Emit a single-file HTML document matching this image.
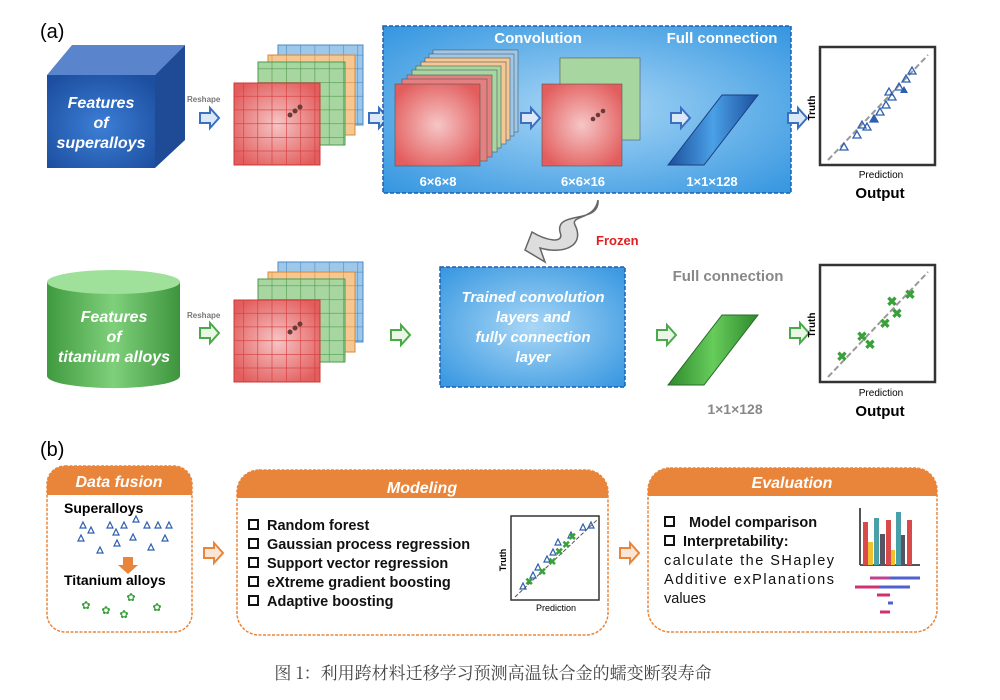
<!DOCTYPE html>
<html><head><meta charset="utf-8"><style>
body{margin:0;background:#fff;width:1000px;height:695px;overflow:hidden}
svg text{font-family:"Liberation Sans",Arial,sans-serif}
</style></head><body>
<svg width="1000" height="695" viewBox="0 0 1000 695" xmlns="http://www.w3.org/2000/svg">
<defs>
<radialGradient id="red" cx="50%" cy="50%" r="60%"><stop offset="0" stop-color="#f6c6c6"/><stop offset="1" stop-color="#e35d5d"/></radialGradient>
<radialGradient id="panel" cx="50%" cy="50%" r="70%"><stop offset="0" stop-color="#a9d7f6"/><stop offset="1" stop-color="#3596e0"/></radialGradient>
<radialGradient id="cube" cx="50%" cy="55%" r="65%"><stop offset="0" stop-color="#3c7fd6"/><stop offset="1" stop-color="#1d4fa0"/></radialGradient>
<linearGradient id="cyl" x1="0" x2="1"><stop offset="0" stop-color="#3f9a3f"/><stop offset=".5" stop-color="#7fd07a"/><stop offset="1" stop-color="#3e943e"/></linearGradient>
<linearGradient id="para" x1="0" x2="1"><stop offset="0" stop-color="#1b4f9c"/><stop offset=".5" stop-color="#4aa0e6"/><stop offset="1" stop-color="#1b4f9c"/></linearGradient>
<linearGradient id="parag" x1="0" x2="1"><stop offset="0" stop-color="#2e8a2e"/><stop offset=".5" stop-color="#66cc5a"/><stop offset="1" stop-color="#2e8a2e"/></linearGradient>
<pattern id="gr" width="14.3" height="13.7" patternUnits="userSpaceOnUse"><path d="M0 0H14.3M0 0V13.7" stroke="#d43a3a" stroke-width="1.2" fill="none"/></pattern>
<pattern id="gg" width="14.3" height="13.7" patternUnits="userSpaceOnUse"><path d="M0 0H14.3M0 0V13.7" stroke="#4e9a4e" stroke-width="1.2" fill="none"/></pattern>
<pattern id="go" width="14.3" height="13.7" patternUnits="userSpaceOnUse"><path d="M0 0H14.3M0 0V13.7" stroke="#d98a3a" stroke-width="1.2" fill="none"/></pattern>
<pattern id="gb" width="14.3" height="13.7" patternUnits="userSpaceOnUse"><path d="M0 0H14.3M0 0V13.7" stroke="#4a8ac4" stroke-width="1.2" fill="none"/></pattern>
<g id="grid">
<rect x="278" y="45" width="85" height="80" fill="#9ec8ea" stroke="#4a8ac4"/><rect x="278" y="45" width="85" height="80" fill="url(#gb)"/>
<rect x="268" y="55" width="87" height="80" fill="#f5c893" stroke="#d98a3a"/><rect x="268" y="55" width="87" height="80" fill="url(#go)"/>
<rect x="258" y="62" width="87" height="83" fill="#a8d6a0" stroke="#4e9a4e"/><rect x="258" y="62" width="87" height="83" fill="url(#gg)"/>
<rect x="234" y="83" width="86" height="82" fill="url(#red)" stroke="#c83a3a"/><rect x="234" y="83" width="86" height="82" fill="url(#gr)"/>
<circle cx="290" cy="115" r="2.5" fill="#6b3a3a"/><circle cx="295" cy="111" r="2.5" fill="#6b3a3a"/><circle cx="300" cy="107" r="2.5" fill="#6b3a3a"/>
</g>
<g id="arrB"><path d="M0 -5H10V-10L19 0L10 10V5H0Z" fill="#dbe8f7" stroke="#3b6fc0" stroke-width="2"/></g>
<g id="arrG"><path d="M0 -5H10V-10L19 0L10 10V5H0Z" fill="#eaf7e6" stroke="#4aaa4a" stroke-width="2"/></g>
<g id="arrO"><path d="M0 -5H10V-10L19 0L10 10V5H0Z" fill="#fbe6d6" stroke="#e8853a" stroke-width="2"/></g>
<g id="box"><rect x="0" y="-10" width="9" height="9" fill="none" stroke="#111" stroke-width="2"/></g>
</defs>

<text x="40" y="38" font-size="20">(a)</text>
<polygon points="47,75 72,45 185,45 155,75" fill="#5a84cc"/>
<polygon points="155,75 185,45 185,140 155,168" fill="#1e4a96"/>
<rect x="47" y="75" width="108" height="93" fill="url(#cube)"/>
<g font-size="16" font-weight="bold" font-style="italic" fill="#fff" text-anchor="middle">
<text x="101" y="108">Features</text><text x="101" y="128">of</text><text x="101" y="148">superalloys</text></g>
<text x="187" y="102" font-size="8" font-weight="bold" fill="#777">Reshape</text>
<use href="#arrB" x="200" y="118"/>
<use href="#grid"/>
<use href="#arrB" x="369" y="118"/>
<rect x="383" y="26" width="408" height="167" fill="url(#panel)" stroke="#1f5fb0" stroke-dasharray="4,2" stroke-width="1.5"/>
<text x="538" y="43" font-size="15" font-weight="bold" fill="#fff" text-anchor="middle">Convolution</text>
<text x="722" y="43" font-size="15" font-weight="bold" fill="#fff" text-anchor="middle">Full connection</text>
<g stroke="#555" stroke-width=".6">
<rect x="433" y="50" width="85" height="82" fill="#9ec8ea"/>
<rect x="429" y="54" width="85" height="82" fill="#9ec8ea"/>
<rect x="425" y="58" width="85" height="82" fill="#f5c893"/>
<rect x="421" y="62" width="85" height="82" fill="#f5c893"/>
<rect x="416" y="66" width="85" height="82" fill="#a8d6a0"/>
<rect x="412" y="70" width="85" height="82" fill="#a8d6a0"/>
<rect x="407" y="75" width="85" height="82" fill="#e58080"/>
<rect x="402" y="79" width="85" height="82" fill="#e58080"/>
<rect x="395" y="84" width="85" height="82" fill="url(#red)"/>
<rect x="560" y="58" width="80" height="82" fill="#a8d6a0"/>
<rect x="542" y="84" width="80" height="82" fill="url(#red)"/>
</g>
<circle cx="593" cy="119" r="2.3" fill="#6b3a3a"/><circle cx="598" cy="115" r="2.3" fill="#6b3a3a"/><circle cx="603" cy="111" r="2.3" fill="#6b3a3a"/>
<use href="#arrB" x="521" y="118"/>
<use href="#arrB" x="671" y="118"/>
<polygon points="668,165 722,95 758,95 704,165" fill="url(#para)" stroke="#1b3f80"/>
<g font-size="13" font-weight="bold" fill="#fff" text-anchor="middle">
<text x="438" y="186">6×6×8</text><text x="583" y="186">6×6×16</text><text x="712" y="186">1×1×128</text></g>
<use href="#arrB" x="788" y="118"/>
<rect x="820" y="47" width="115" height="118" fill="#fff" stroke="#333" stroke-width="2.5"/>
<line x1="828" y1="160" x2="928" y2="55" stroke="#999" stroke-width="2" stroke-dasharray="6,3"/>
<g fill="none" stroke="#2e5fb0" stroke-width="1.3">
<path d="M840 150l4-7l4 7z M853 138l4-7l4 7z M858 128l4-7l4 7z M870 122l4-7l4 7z M876 115l4-7l4 7z M882 108l4-7l4 7z M888 100l4-7l4 7z M895 90l4-7l4 7z M902 82l4-7l4 7z M908 74l4-7l4 7z M885 95l4-7l4 7z M863 130l4-7l4 7z"/></g>
<path d="M870 122l4-7l4 7z M900 93l4-7l4 7z" fill="#2e5fb0"/>
<text x="815" y="108" font-size="10" font-weight="bold" transform="rotate(-90 815 108)" text-anchor="middle">Truth</text>
<text x="881" y="178" font-size="10" text-anchor="middle">Prediction</text>
<text x="880" y="198" font-size="15" font-weight="bold" text-anchor="middle">Output</text>
<path d="M598 200 C600 225 555 210 560 232 C565 245 545 240 532 232 L525 250 L545 262 L540 248 C565 255 585 245 575 225 C570 215 595 220 598 200Z" fill="#ddd" stroke="#666" stroke-width="1.5"/>
<text x="596" y="245" font-size="13" font-weight="bold" fill="#e02020">Frozen</text>
<path d="M47 282 V376 A66 12 0 0 0 180 376 V282Z" fill="url(#cyl)"/>
<ellipse cx="113.5" cy="282" rx="66.5" ry="12" fill="#9fe09a"/>
<g font-size="16" font-weight="bold" font-style="italic" fill="#fff" text-anchor="middle">
<text x="114" y="322">Features</text><text x="114" y="342">of</text><text x="114" y="362">titanium alloys</text></g>
<text x="187" y="318" font-size="8" font-weight="bold" fill="#777">Reshape</text>
<use href="#arrG" x="200" y="333"/>
<use href="#grid" y="217"/>
<use href="#arrG" x="391" y="335"/>
<rect x="440" y="267" width="185" height="120" fill="url(#panel)" stroke="#1f5fb0" stroke-dasharray="4,2" stroke-width="1.5"/>
<g font-size="15" font-weight="bold" font-style="italic" fill="#fff" text-anchor="middle">
<text x="533" y="302">Trained convolution</text><text x="533" y="322">layers and</text><text x="533" y="342">fully connection</text><text x="533" y="362">layer</text></g>
<text x="728" y="281" font-size="15" font-weight="bold" fill="#888" text-anchor="middle">Full connection</text>
<use href="#arrG" x="657" y="335"/>
<polygon points="668,385 722,315 758,315 704,385" fill="url(#parag)" stroke="#2a6a2a"/>
<text x="735" y="414" font-size="14" font-weight="bold" fill="#888" text-anchor="middle">1×1×128</text>
<use href="#arrG" x="790" y="333"/>
<rect x="820" y="265" width="115" height="117" fill="#fff" stroke="#333" stroke-width="2.5"/>
<line x1="828" y1="377" x2="928" y2="272" stroke="#999" stroke-width="2" stroke-dasharray="6,3"/>
<g font-size="13" font-weight="bold" fill="#3aa03a" text-anchor="middle">
<text x="842" y="361">✖</text><text x="862" y="341">✖</text><text x="870" y="349">✖</text><text x="885" y="328">✖</text><text x="897" y="318">✖</text><text x="892" y="306">✖</text><text x="910" y="299">✖</text></g>
<text x="815" y="325" font-size="10" font-weight="bold" transform="rotate(-90 815 325)" text-anchor="middle">Truth</text>
<text x="881" y="396" font-size="10" text-anchor="middle">Prediction</text>
<text x="880" y="416" font-size="15" font-weight="bold" text-anchor="middle">Output</text>

<text x="40" y="456" font-size="20">(b)</text>
<g fill="#fff" stroke="#e8853a" stroke-width="1.5" stroke-dasharray="3,1.5">
<rect x="47" y="466" width="145" height="166" rx="18"/>
<rect x="237" y="470" width="371" height="165" rx="22"/>
<rect x="648" y="468" width="289" height="164" rx="22"/>
</g>
<path d="M47 495 V484 A18 18 0 0 1 65 466 H174 A18 18 0 0 1 192 484 V495Z" fill="#e8853a"/>
<path d="M237 498 V492 A22 22 0 0 1 259 470 H586 A22 22 0 0 1 608 492 V498Z" fill="#e8853a"/>
<path d="M648 496 V490 A22 22 0 0 1 670 468 H915 A22 22 0 0 1 937 490 V496Z" fill="#e8853a"/>
<g font-size="16" font-weight="bold" font-style="italic" fill="#fff" text-anchor="middle">
<text x="119" y="487">Data fusion</text><text x="422" y="493">Modeling</text><text x="792" y="488">Evaluation</text></g>
<g font-size="14" font-weight="bold">
<text x="64" y="513">Superalloys</text><text x="64" y="585">Titanium alloys</text></g>
<g fill="none" stroke="#2e5fb0" stroke-width="1.2">
<path d="M80 528l3-6l3 6z M88 533l3-6l3 6z M107 528l3-6l3 6z M113 535l3-6l3 6z M121 528l3-6l3 6z M133 522l3-6l3 6z M144 528l3-6l3 6z M155 528l3-6l3 6z M166 528l3-6l3 6z M78 541l3-6l3 6z M97 553l3-6l3 6z M114 546l3-6l3 6z M130 540l3-6l3 6z M148 550l3-6l3 6z M162 541l3-6l3 6z"/></g>
<path d="M123 557h10v8h5l-10 9l-10-9h5z" fill="#e8853a"/>
<g font-size="11" fill="#3aa03a" text-anchor="middle"><text x="86" y="609">✿</text><text x="106" y="614">✿</text><text x="131" y="601">✿</text><text x="157" y="611">✿</text><text x="124" y="618">✿</text></g>
<use href="#arrO" x="204" y="553"/>
<use href="#arrO" x="620" y="553"/>
<use href="#box" x="249" y="530"/><use href="#box" x="249" y="549"/><use href="#box" x="249" y="568"/><use href="#box" x="249" y="587"/><use href="#box" x="249" y="606"/>
<g font-size="14.5" font-weight="bold" fill="#111">
<text x="267" y="530">Random forest</text>
<text x="267" y="549">Gaussian process regression</text>
<text x="267" y="568">Support vector regression</text>
<text x="267" y="587">eXtreme gradient boosting</text>
<text x="267" y="606">Adaptive boosting</text></g>
<rect x="511" y="516" width="88" height="84" fill="#fff" stroke="#333" stroke-width="1.5"/>
<line x1="515" y1="597" x2="597" y2="520" stroke="#555" stroke-dasharray="4,2"/>
<g fill="none" stroke="#2e5fb0" stroke-width="1.2"><path d="M520 589l3-6l3 6z M530 578l3-6l3 6z M535 570l3-6l3 6z M544 562l3-6l3 6z M550 555l3-6l3 6z M555 545l3-6l3 6z M568 538l3-6l3 6z M580 530l3-6l3 6z M588 528l3-6l3 6z"/></g>
<g font-size="10" fill="#3aa03a" font-weight="bold"><text x="525" y="585">✖</text><text x="538" y="575">✖</text><text x="548" y="565">✖</text><text x="555" y="555">✖</text><text x="562" y="548">✖</text><text x="568" y="540">✖</text></g>
<text x="506" y="560" font-size="9" font-weight="bold" transform="rotate(-90 506 560)" text-anchor="middle">Truth</text>
<text x="556" y="611" font-size="9" text-anchor="middle">Prediction</text>
<use href="#box" x="665" y="527"/><use href="#box" x="665" y="546"/>
<g font-size="14.5" fill="#111">
<text x="689" y="527" font-weight="bold">Model comparison</text>
<text x="683" y="546" font-weight="bold">Interpretability:</text>
<text x="664" y="565" textLength="170">calculate  the  SHapley</text>
<text x="664" y="584" textLength="170">Additive exPlanations</text>
<text x="664" y="603">values</text></g>
<g><line x1="860" y1="508" x2="860" y2="565" stroke="#555" stroke-width="2"/><line x1="860" y1="565" x2="920" y2="565" stroke="#555" stroke-width="2"/>
<rect x="863" y="522" width="5" height="43" fill="#d94a4a"/><rect x="868" y="542" width="5" height="23" fill="#f0c030"/>
<rect x="874" y="518" width="5" height="47" fill="#4aa0a8"/><rect x="880" y="534" width="5" height="31" fill="#556"/>
<rect x="886" y="520" width="5" height="45" fill="#d94a4a"/><rect x="891" y="550" width="4" height="15" fill="#f0c030"/>
<rect x="896" y="512" width="5" height="53" fill="#4aa0a8"/><rect x="901" y="535" width="4" height="30" fill="#556"/>
<rect x="907" y="520" width="5" height="45" fill="#d94a4a"/></g>
<g stroke-width="3"><line x1="870" y1="578" x2="905" y2="578" stroke="#c04090"/><line x1="890" y1="578" x2="920" y2="578" stroke="#5060d0"/>
<line x1="855" y1="587" x2="880" y2="587" stroke="#d03070"/><line x1="880" y1="587" x2="910" y2="587" stroke="#5060d0"/>
<line x1="877" y1="595" x2="890" y2="595" stroke="#d03070"/><line x1="888" y1="603" x2="893" y2="603" stroke="#5060d0"/><line x1="880" y1="612" x2="890" y2="612" stroke="#d03070"/></g>
<text x="493" y="679" font-size="17" fill="#444" text-anchor="middle" style="font-family:'Noto Serif CJK SC','Liberation Serif',serif">图 1：利用跨材料迁移学习预测高温钛合金的蠕变断裂寿命</text>
</svg>
</body></html>
